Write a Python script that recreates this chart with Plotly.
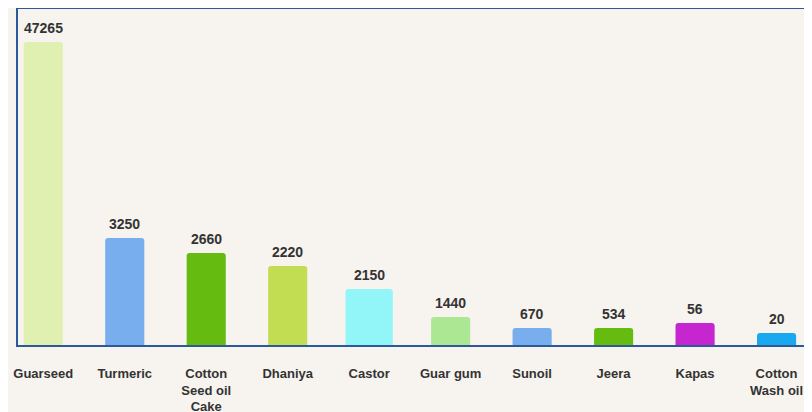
import plotly.graph_objects as go

categories = ["Guarseed", "Turmeric", "Cotton<br>Seed oil<br>Cake", "Dhaniya", "Castor",
              "Guar gum", "Sunoil", "Jeera", "Kapas", "Cotton<br>Wash oil"]
values = [47265, 3250, 2660, 2220, 2150, 1440, 670, 534, 56, 20]
# bar heights as drawn in the reference (the picture does not use a proportional scale)
bar_heights = [303, 107, 92, 79, 56, 28, 17, 17, 22, 12]
colors = ["#e0f0b0", "#78aeee", "#66bb10", "#c2dd52", "#92f5f8",
          "#ace894", "#78aeee", "#66bb10", "#c626d0", "#1aa8ee"]
widths = [0.48, 0.48, 0.48, 0.48, 0.58, 0.48, 0.48, 0.48, 0.48, 0.48]

xs = list(range(len(categories)))

fig = go.Figure()
fig.add_trace(go.Bar(
    x=xs, y=bar_heights, width=widths,
    marker=dict(color=colors, line=dict(width=0), cornerradius=3),
    hovertext=[str(v) for v in values], hoverinfo="text",
))

for x, h, v in zip(xs, bar_heights, values):
    fig.add_annotation(x=x, y=h, text=f"<b>{v}</b>", showarrow=False,
                       yanchor="bottom", yshift=4,
                       font=dict(family="Liberation Sans, Arial, sans-serif", size=14, color="#333333"))

# the page body adds an 8px offset, so the figure is sized to fill the remaining window
fig.update_layout(
    width=804, height=404,
    margin=dict(l=10, r=0, t=1, b=67, autoexpand=False),
    paper_bgcolor="#f7f3ee", plot_bgcolor="#f7f3ee",
    showlegend=False,
    xaxis=dict(
        tickmode="array", tickvals=xs,
        ticktext=[f"<b>{c}</b>" for c in categories],
        range=[-0.31, 9.435],
        showgrid=False, zeroline=False, automargin=False,
        showline=True, linecolor="#2b5a9a", linewidth=2, mirror=True,
        ticks="outside", ticklen=15, tickcolor="rgba(0,0,0,0)",
        tickfont=dict(family="Liberation Sans, Arial, sans-serif", size=13, color="#333333"),
        fixedrange=True,
    ),
    yaxis=dict(
        range=[0, 336], showgrid=False, zeroline=False, showticklabels=False,
        automargin=False,
        showline=True, linecolor="#2b5a9a", linewidth=2,
        fixedrange=True,
    ),
)

fig.write_html("out.html")
